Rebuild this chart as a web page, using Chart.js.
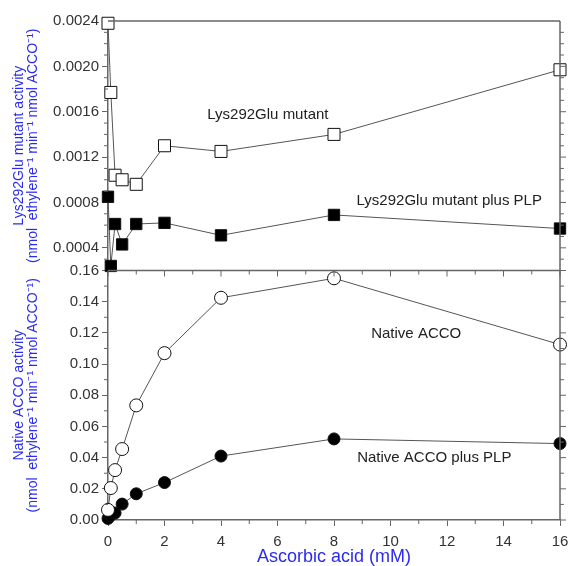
<!DOCTYPE html>
<html>
<head>
<meta charset="utf-8">
<script src="https://cdn.jsdelivr.net/npm/chart.js@4.4.1/dist/chart.umd.min.js"></script>
<style>
  body { margin: 0; background: #fff; }
  #wrap { width: 570px; height: 566px; }
</style>
</head>
<body>
<div id="wrap"><canvas id="c" width="570" height="566"></canvas></div>
<script>
// 抗坏血酸浓度 (mM)
const ascorbic = [0, 0.1, 0.25, 0.5, 1, 2, 4, 8, 16];

// 上半部分：Lys292Glu 突变体
const mutant = [0.00238, 0.00177, 0.00104, 0.00100, 0.00096, 0.00130, 0.00125, 0.00140, 0.00197];
const mutantPLP = [0.00085, 0.00024, 0.00061, 0.00043, 0.00061, 0.00062, 0.00051, 0.00069, 0.00057];

// 下半部分：天然 ACCO
const native = [0.0065, 0.0205, 0.032, 0.0455, 0.0735, 0.107, 0.1425, 0.155, 0.1125];
const nativePLP = [0.001, 0.003, 0.0045, 0.0102, 0.0168, 0.024, 0.041, 0.052, 0.049];

// 刻度标签
const topTicks = [0.0004, 0.0008, 0.0012, 0.0016, 0.0020, 0.0024];
const bottomTicks = [0, 0.02, 0.04, 0.06, 0.08, 0.10, 0.12, 0.14, 0.16];
const xTicks = [0, 2, 4, 6, 8, 10, 12, 14, 16];

const seriesNames = ['Lys292Glu mutant', 'Lys292Glu mutant plus PLP', 'Native ACCO', 'Native ACCO plus PLP'];

const FONT = 'Liberation Sans, Arial, sans-serif';
const BLUE = '#2b2bf0';
const AXIS = '#666';

function pts(ys) {
    return ascorbic.map((x, i) => ({ x, y: ys[i] }));
}

function series(label, ys, axis, style, filled, radius) {
    return {
        label,
        data: pts(ys),
        yAxisID: axis,
        borderColor: '#555',
        borderWidth: 1,
        pointStyle: style,
        pointRadius: radius,
        pointBorderColor: '#111',
        pointBorderWidth: 1,
        pointBackgroundColor: filled ? '#000' : '#fff',
        clip: false,
        tension: 0
    };
}

// 次刻度、右边框、分隔线
const frame = {
    id: 'frame',
    afterDraw(chart) {
        const { ctx, chartArea: a, scales } = chart;
        const yt = scales.yTop, yb = scales.yBottom, xs = scales.x;
        ctx.save();
        ctx.strokeStyle = AXIS;
        ctx.lineWidth = 1.5;
        ctx.beginPath();
        ctx.moveTo(a.left, a.top); ctx.lineTo(a.right, a.top);
        ctx.moveTo(a.right, a.top); ctx.lineTo(a.right, a.bottom);
        ctx.moveTo(a.left, yt.bottom); ctx.lineTo(a.right, yt.bottom);
        ctx.stroke();

        ctx.lineWidth = 1;
        ctx.beginPath();
        for (let i = 3; i <= 23; i++) {
            const p = yt.getPixelForValue(i * 0.0001);
            const major = i % 4 === 0;
            if (!major) { ctx.moveTo(a.left - 4, p); ctx.lineTo(a.left, p); }
            ctx.moveTo(a.right, p); ctx.lineTo(a.right + (major ? 6 : 4), p);
        }
        for (let i = 0; i <= 16; i++) {
            const p = yb.getPixelForValue(i * 0.01);
            const major = i % 2 === 0;
            if (!major) { ctx.moveTo(a.left - 4, p); ctx.lineTo(a.left, p); }
            ctx.moveTo(a.right, p); ctx.lineTo(a.right + (major ? 6 : 4), p);
        }
        for (let i = 0; i <= 16; i++) {
            const p = xs.getPixelForValue(i);
            const major = i % 2 === 0;
            if (!major) { ctx.moveTo(p, a.bottom); ctx.lineTo(p, a.bottom + 4); }
            ctx.moveTo(p, yt.bottom); ctx.lineTo(p, yt.bottom + (major ? 6 : 4));
        }
        ctx.stroke();

        // 曲线标注
        ctx.fillStyle = '#222';
        ctx.font = '15px ' + FONT;
        ctx.textAlign = 'center';
        ctx.textBaseline = 'middle';
        const notes = [
            [seriesNames[0], 5.66, 0.00157, yt],
            [seriesNames[1], 12.08, 0.00081, yt],
            [seriesNames[2], 10.91, 0.1196, yb],
            [seriesNames[3], 11.55, 0.0399, yb]
        ];
        notes.forEach(([t, x, y, s]) => {
            ctx.fillText(t, xs.getPixelForValue(x), s.getPixelForValue(y));
        });
        ctx.restore();
    }
};

const tickFont = { family: FONT, size: 15 };
const titleFont = { family: FONT, size: 14, lineHeight: 1 };

new Chart(document.getElementById('c'), {
    type: 'line',
    data: {
        datasets: [
            series(seriesNames[0], mutant, 'yTop', 'rect', false, 8.5),
            series(seriesNames[1], mutantPLP, 'yTop', 'rect', true, 8),
            series(seriesNames[2], native, 'yBottom', 'circle', false, 6.5),
            series(seriesNames[3], nativePLP, 'yBottom', 'circle', true, 6)
        ]
    },
    options: {
        responsive: false,
        animation: false,
        layout: { padding: { top: 21, right: 10, left: 0, bottom: 0 } },
        plugins: { legend: { display: false }, tooltip: { enabled: false } },
        scales: {
            x: {
                type: 'linear',
                min: 0,
                max: 16,
                afterBuildTicks: s => { s.ticks = xTicks.map(v => ({ value: v })); },
                afterFit: s => { s.height = 46; s.paddingLeft = 0; s.paddingRight = 0; },
                ticks: { font: tickFont, color: '#333', padding: 7, maxRotation: 0, autoSkip: false },
                grid: { drawOnChartArea: false, tickLength: 6, color: AXIS },
                border: { color: AXIS, width: 1.5 },
                title: {
                    display: true,
                    text: 'Ascorbic acid (mM)',
                    color: BLUE,
                    font: { family: FONT, size: 18, lineHeight: 1 },
                    padding: { top: 0, bottom: 0 }
                }
            },
            yBottom: {
                type: 'linear',
                position: 'left',
                stack: 'panels',
                stackWeight: 1,
                min: 0,
                max: 0.16,
                afterBuildTicks: s => { s.ticks = bottomTicks.map(v => ({ value: v })); },
                afterFit: s => { s.width = 108; },
                ticks: { font: tickFont, color: '#333', padding: 3, autoSkip: false, callback: v => v.toFixed(2) },
                grid: { drawOnChartArea: false, tickLength: 6, color: AXIS },
                border: { color: AXIS, width: 1.5 },
                title: {
                    display: true,
                    text: ['Native ACCO activity', '(nmol  ethylene\u207B\u00B9 min\u207B\u00B9 nmol ACCO\u207B\u00B9)'],
                    color: BLUE,
                    font: titleFont,
                    padding: { top: 12, bottom: 0 }
                }
            },
            yTop: {
                type: 'linear',
                position: 'left',
                stack: 'panels',
                stackWeight: 1,
                min: 0.0002,
                max: 0.0024,
                afterBuildTicks: s => { s.ticks = topTicks.map(v => ({ value: v })); },
                afterFit: s => { s.width = 108; },
                ticks: { font: tickFont, color: '#333', padding: 3, autoSkip: false, callback: v => v.toFixed(4) },
                grid: { drawOnChartArea: false, tickLength: 6, color: AXIS },
                border: { color: AXIS, width: 1.5 },
                title: {
                    display: true,
                    text: ['Lys292Glu mutant activity', '(nmol  ethylene\u207B\u00B9 min\u207B\u00B9 nmol ACCO\u207B\u00B9)'],
                    color: BLUE,
                    font: titleFont,
                    padding: { top: 12, bottom: 0 }
                }
            }
        }
    },
    plugins: [frame]
});
</script>
</body>
</html>
